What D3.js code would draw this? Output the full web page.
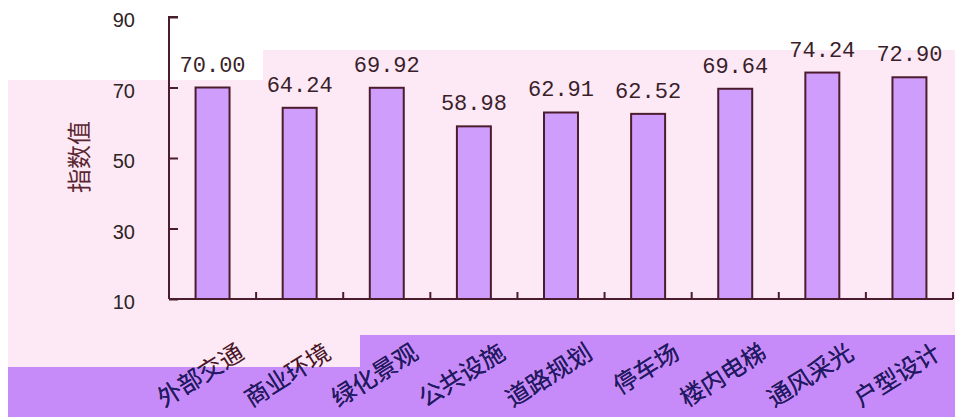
<!DOCTYPE html>
<html>
<head>
<meta charset="utf-8">
<script src="https://cdn.jsdelivr.net/npm/d3@7"></script>
<style>
  body { margin: 0; background: #fff; }
  svg { display: block; }
</style>
</head>
<body>
<div id="chart"></div>
<script>
// Index values per housing factor
const categories = ["外部交通", "商业环境", "绿化景观", "公共设施", "道路规划", "停车场", "楼内电梯", "通风采光", "户型设计"];
const values = [70.00, 64.24, 69.92, 58.98, 62.91, 62.52, 69.64, 74.24, 72.90];
const yTicks = [10, 30, 50, 70, 90];
const yTitle = "指数值";

const width = 955;
const height = 417;

const svg = d3.select("#chart")
  .append("svg")
  .attr("width", width)
  .attr("height", height);

// ----- background bands -----
const pink = "#fde9f6";
const purple = "#c68bf8";
svg.append("rect").attr("x", 8).attr("y", 80).attr("width", width - 8).attr("height", 287).attr("fill", pink);
svg.append("rect").attr("x", 263).attr("y", 50).attr("width", width - 263).attr("height", 30).attr("fill", pink);

const bandPath = "M8,367 H360 V335 H955 V417 H8 Z";
svg.append("path").attr("d", bandPath).attr("fill", purple);

svg.append("clipPath").attr("id", "band-clip")
  .append("path").attr("d", bandPath);

// ----- scales -----
const plotLeft = 169, plotRight = 953, plotTop = 17, plotBottom = 299;

const x = d3.scaleBand()
  .domain(categories)
  .range([plotLeft, plotRight])
  .paddingInner(0.61)
  .paddingOuter(0.305);

const y = d3.scaleLinear()
  .domain([10, 90])
  .range([plotBottom, plotTop]);

const axisColor = "#4b1c2c";

// ----- bars -----
svg.append("g")
  .selectAll("rect")
  .data(values)
  .join("rect")
  .attr("x", (d, i) => x(categories[i]))
  .attr("y", d => y(d))
  .attr("width", x.bandwidth())
  .attr("height", d => y(10) - y(d))
  .attr("fill", "#cf9efc")
  .attr("stroke", axisColor)
  .attr("stroke-width", 2);

// value labels
svg.append("g")
  .selectAll("text")
  .data(values)
  .join("text")
  .attr("x", (d, i) => x(categories[i]) + x.bandwidth() / 2)
  .attr("y", d => y(d) - 16)
  .attr("text-anchor", "middle")
  .attr("font-family", "Liberation Mono, monospace")
  .attr("font-size", 22)
  .attr("fill", "#3a1e2a")
  .text(d => d.toFixed(2));

// ----- y axis -----
const yAxis = svg.append("g")
  .attr("transform", `translate(${plotLeft},0)`)
  .call(d3.axisRight(y).tickValues(yTicks).tickSize(9).tickFormat(""));
yAxis.select(".domain").attr("d", `M9,${plotTop}H0V${plotBottom}`);
yAxis.selectAll("path, line").attr("stroke", axisColor).attr("stroke-width", 2);

svg.append("g")
  .selectAll("text")
  .data(yTicks)
  .join("text")
  .attr("x", 135)
  .attr("y", d => y(d) + 3)
  .attr("dy", "0.35em")
  .attr("text-anchor", "end")
  .attr("font-family", "Liberation Sans, sans-serif")
  .attr("font-size", 20)
  .attr("fill", "#2e2424")
  .text(d => d);

svg.append("text")
  .attr("transform", `translate(88,157) rotate(-90)`)
  .attr("text-anchor", "middle")
  .attr("font-family", "Noto Sans CJK SC, sans-serif")
  .attr("font-size", 24)
  .attr("fill", "#5a2630")
  .text(yTitle);

// ----- x axis -----
const boundaries = d3.range(categories.length + 1).map(i => plotLeft + i * x.step());
svg.append("line")
  .attr("x1", plotLeft).attr("x2", plotRight)
  .attr("y1", plotBottom).attr("y2", plotBottom)
  .attr("stroke", axisColor).attr("stroke-width", 2);
svg.append("g")
  .selectAll("line")
  .data(boundaries.slice(1))
  .join("line")
  .attr("x1", d => d).attr("x2", d => d)
  .attr("y1", plotBottom).attr("y2", plotBottom - 7)
  .attr("stroke", axisColor).attr("stroke-width", 2);

// category labels, drawn twice: maroon on pink, navy on the purple band
function drawLabels(g, color) {
  g.selectAll("text")
    .data(categories)
    .join("text")
    .attr("transform", d => `translate(${x(d) + x.bandwidth() / 2 + 33},357) rotate(-32)`)
    .attr("text-anchor", "end")
    .attr("font-family", "Noto Sans CJK SC, sans-serif")
    .attr("font-size", 24)
    .attr("fill", color)
    .text(d => d);
}
drawLabels(svg.append("g"), "#4a1526");
drawLabels(svg.append("g").attr("clip-path", "url(#band-clip)"), "#1d1a6a");
</script>
</body>
</html>
